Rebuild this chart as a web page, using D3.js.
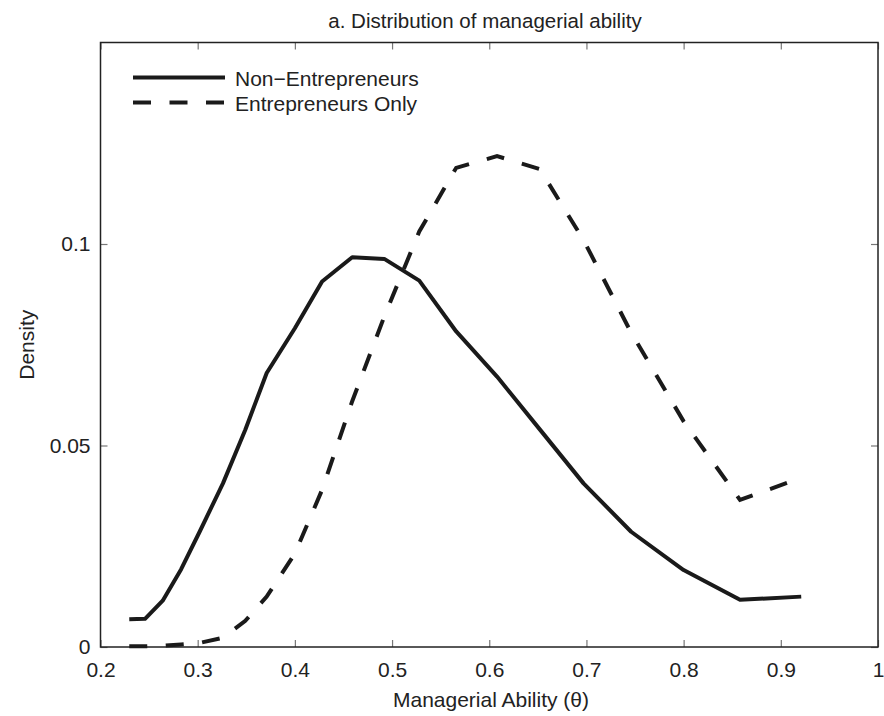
<!DOCTYPE html>
<html>
<head>
<meta charset="utf-8">
<script src="https://cdn.jsdelivr.net/npm/d3@7"></script>
<style>
  body { margin: 0; background: #fff; }
  text { font-family: "Liberation Sans", Arial, sans-serif; fill: #222; }
</style>
</head>
<body>
<div id="chart"></div>
<script>
// managerial ability grid (shared by both curves)
var theta = [0.2296, 0.2458, 0.264, 0.283, 0.302, 0.326, 0.349, 0.371, 0.400, 0.428, 0.459,
             0.492, 0.528, 0.566, 0.608, 0.652, 0.697, 0.746, 0.800, 0.858, 0.921]
var nonEntrepreneurs = [0.0069, 0.0070, 0.0115, 0.0193, 0.0286, 0.0406, 0.0539, 0.0680, 0.0791, 0.0907, 0.0967,
                        0.0963, 0.0909, 0.0783, 0.0671, 0.0540, 0.0406, 0.0286, 0.0191, 0.0117, 0.0125]
var entrepreneursOnly = [0.0002, 0.0002, 0.0003, 0.0006, 0.0010, 0.0023, 0.0065, 0.0125, 0.0232, 0.0390, 0.0610,
                         0.0820, 0.1031, 0.1189, 0.1218, 0.1186, 0.1010, 0.0780, 0.0560, 0.0365, 0.0420]
var seriesNames = ["Non\u2212Entrepreneurs", "Entrepreneurs Only"]
var xTicks = [0.2, 0.3, 0.4, 0.5, 0.6, 0.7, 0.8, 0.9, 1]
var yTicks = [0, 0.05, 0.1]

var margin = { top: 42.5, left: 100.5, right: 6, bottom: 69 }
var width = 884 - margin.left - margin.right
var height = 716 - margin.top - margin.bottom

var svg = d3.select("#chart")
            .append("svg")
            .attr("width", 884)
            .attr("height", 716)

var g = svg.append("g")
           .attr("transform", "translate(" + margin.left + "," + margin.top + ")")

var x = d3.scaleLinear().domain([0.2, 1]).range([0, width])
var y = d3.scaleLinear().domain([0, 0.15]).range([height, 0])

var fmt = function(d) { return String(d) }

// axes, matlab style: ticks inward on all four sides
g.append("g")
  .attr("transform", "translate(0," + height + ")")
  .call(d3.axisBottom(x).tickValues(xTicks).tickSize(-7).tickPadding(15).tickFormat(fmt))
g.append("g")
  .call(d3.axisTop(x).tickValues(xTicks).tickSize(-7).tickFormat(""))
g.append("g")
  .call(d3.axisLeft(y).tickValues(yTicks).tickSize(-7).tickPadding(10).tickFormat(fmt))
g.append("g")
  .attr("transform", "translate(" + width + ",0)")
  .call(d3.axisRight(y).tickValues(yTicks).tickSize(-7).tickFormat(""))

g.selectAll(".domain").remove()
g.selectAll(".tick line").attr("stroke", "#777").attr("stroke-width", 1.2)
g.selectAll(".tick text").style("font-size", "21px").attr("fill", "#222")

g.append("rect")
  .attr("width", width)
  .attr("height", height)
  .attr("fill", "none")
  .attr("stroke", "#222")
  .attr("stroke-width", 1.5)

var line = d3.line()
  .x(function(d, i) { return x(theta[i]) })
  .y(function(d) { return y(d) })

g.append("path")
  .datum(nonEntrepreneurs)
  .attr("d", line)
  .attr("fill", "none")
  .attr("stroke", "#1a1a1a")
  .attr("stroke-width", 4)
  .attr("stroke-linejoin", "round")

g.append("path")
  .datum(entrepreneursOnly)
  .attr("d", line)
  .attr("fill", "none")
  .attr("stroke", "#1a1a1a")
  .attr("stroke-width", 4)
  .attr("stroke-dasharray", "18,18.5")

// legend
var legend = svg.append("g").attr("transform", "translate(133,0)")
legend.selectAll(".leg")
  .data(seriesNames)
  .enter().append("line")
  .attr("x1", 0).attr("x2", 92)
  .attr("y1", function(d, i) { return 77.5 + i * 25 })
  .attr("y2", function(d, i) { return 77.5 + i * 25 })
  .attr("stroke", "#1a1a1a")
  .attr("stroke-width", 4)
  .attr("stroke-dasharray", function(d, i) { return i == 0 ? null : "18,18.5" })
legend.selectAll(".legtext")
  .data(seriesNames)
  .enter().append("text")
  .attr("x", 102)
  .attr("y", function(d, i) { return 85.5 + i * 25 })
  .style("font-size", "21px")
  .text(function(d) { return d })

// title and labels
svg.append("text")
  .attr("x", 485).attr("y", 28)
  .attr("text-anchor", "middle")
  .style("font-size", "20.5px")
  .text("a. Distribution of managerial ability")

svg.append("text")
  .attr("x", 491).attr("y", 707)
  .attr("text-anchor", "middle")
  .style("font-size", "21px")
  .text("Managerial Ability (\u03b8)")

svg.append("text")
  .attr("transform", "translate(34," + (margin.top + height / 2) + ") rotate(-90)")
  .attr("text-anchor", "middle")
  .style("font-size", "21px")
  .text("Density")
</script>
</body>
</html>
